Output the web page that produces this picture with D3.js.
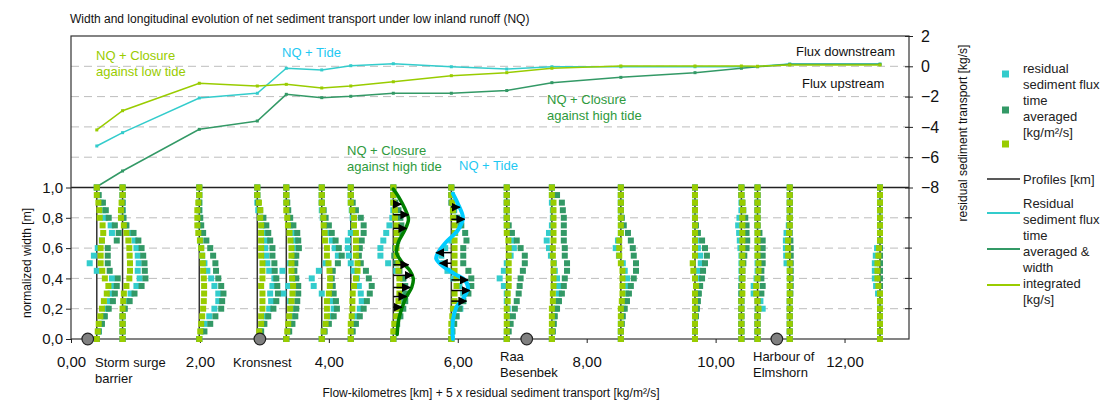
<!DOCTYPE html>
<html>
<head>
<meta charset="utf-8">
<script src="https://cdn.jsdelivr.net/npm/d3@7"></script>
<style>
  body { margin: 0; background: #fff; }
  svg { font-family: "Liberation Sans", Arial, sans-serif; }
  .axis text { font-size: 15px; fill: #111; }
  .axis line, .axis path { stroke: #222; }
  .grid line { stroke: #bdbdbd; stroke-dasharray: 8,5; }
  .note { font-size: 13px; }
  .legend text { font-size: 13px; fill: #222; }
</style>
</head>
<body>
<svg id="chart"></svg>
<script>
// Profiles (flow-km) and normalized width levels
const profileKm = [0.40, 0.80, 1.99, 2.89, 3.34, 3.89, 4.34, 5.00, 5.90, 6.76, 7.46, 8.53, 9.68, 10.40, 10.65, 11.15, 12.55];
const widthLevels = [0, 0.05, 0.1, 0.15, 0.2, 0.25, 0.3, 0.35, 0.4, 0.45, 0.5, 0.55, 0.6, 0.65, 0.7, 0.75, 0.8, 0.85, 0.9, 0.95, 1];

// Width and time integrated transport [kg/s] per profile
const transportLowTide = [-4.2, -2.93, -1.12, -1.3, -1.19, -1.43, -1.3, -1.02, -0.62, -0.42, -0.13, 0.02, 0.02, 0.02, 0, 0.09, 0.09];
const transportTide = [-5.26, -4.38, -2.09, -1.78, -0.13, -0.24, 0.04, 0.17, -0.03, -0.18, -0.03, -0.03, -0.03, -0.03, -0.01, 0.15, 0.15];
const transportHighTide = [-7.95, -6.91, -4.16, -3.61, -1.85, -2.07, -1.98, -1.78, -1.78, -1.6, -1.08, -0.73, -0.42, -0.13, -0.03, 0.13, 0.13];

// Residual sediment flux [kg/m²/s] over the width, bottom (0) to top (1), one row per profile
const fluxLowTide = [
  [0,.003,.006,.011,.016,.022,.031,.036,.025,.017,.012,.012,.012,.016,.02,.018,.009,.008,.005,0,0],
  [0,0,0,0,0,.002,.004,.012,.021,.023,.023,.022,.021,.018,.012,.004,-.005,-.005,-.003,0,0],
  [0,.003,.006,.009,.012,.014,.015,.015,.014,.012,.011,.009,.006,.002,-.003,-.006,-.006,-.006,-.003,0,0],
  [0,.006,.012,.012,.016,.016,.016,.012,.016,.016,.016,.012,.012,.012,.012,.012,.009,.009,.005,0,0],
  [0,.003,.006,.009,.012,.016,.019,.021,.018,.016,.016,.016,.016,.013,.01,.005,.003,0,0,0,0],
  [0,.006,.012,.016,.016,.016,.022,.025,.026,.024,.021,.016,.016,.01,.009,.006,.005,.003,0,0,0],
  [0,0,0,.003,.005,.005,.006,.01,.016,.021,.021,.016,.016,.016,.016,.01,.01,.005,0,0,0],
  [0,0,.003,.009,.012,.016,.019,.019,.019,.016,.016,.01,.01,.01,.01,.01,.005,.005,0,0,0],
  [0,0,0,.003,.005,.01,.01,.016,.016,.01,.01,.01,.01,.01,.01,.01,.005,.005,.003,0,0],
  [0,0,0,0,0,.003,.003,.006,.006,.006,.006,.006,.006,.005,0,0,0,0,0,0,0],
  [0,0,0,0,0,.003,.003,.005,.005,.005,.005,.003,.003,.005,.005,.005,.005,.005,.005,0,0],
  [0,0,0,0,0,.003,.005,.005,.005,.005,0,-.005,-.005,-.005,0,0,0,0,0,0,0],
  [0,0,0,0,0,0,0,.003,0,-.005,-.007,0,0,0,0,0,0,0,0,0,0],
  [0,0,0,0,0,0,.003,.003,.003,.003,.003,.003,.003,.003,.003,.003,.003,.005,.003,0,0],
  [0,0,0,0,.003,0,-.004,-.004,0,.003,.003,0,0,0,0,0,0,0,0,0,0],
  [0,0,0,0,0,0,0,0,0,0,0,-.005,-.005,-.005,-.002,0,0,0,0,0,0],
  [0,0,0,0,0,0,0,-.005,-.008,-.008,-.008,-.005,-.003,0,0,0,0,0,0,0,0]
];
const fluxHighTide = [
  [0,.006,.016,.025,.037,.05,.056,.062,.065,.04,.034,.034,.034,.062,.068,.056,.037,.028,.019,.006,0],
  [0,0,0,0,.007,.022,.037,.059,.071,.069,.068,.064,.059,.049,.034,.012,.003,0,0,0,0],
  [0,.016,.034,.05,.068,.071,.075,.068,.059,.052,.05,.043,.034,.022,.012,.006,.003,0,0,0,0],
  [0,.012,.022,.034,.05,.059,.064,.062,.059,.054,.053,.047,.047,.04,.034,.028,.019,.009,.003,0,0],
  [0,.009,.019,.028,.031,.034,.037,.037,.031,.025,.028,.031,.039,.037,.034,.022,.012,.006,.003,0,0],
  [0,.009,.022,.037,.047,.044,.037,.034,.031,.034,.05,.062,.053,.043,.031,.022,.012,.006,0,0,0],
  [0,.006,.016,.028,.04,.05,.059,.065,.056,.047,.031,.025,.028,.034,.04,.04,.031,.016,.006,0,0],
  [0,.006,.012,.022,.031,.037,.04,.037,.031,.019,.009,.003,.006,.012,.019,.025,.022,.016,.006,0,0],
  [0,.003,.009,.016,.025,.037,.053,.062,.062,.053,.037,.037,.037,.047,.043,.031,.016,.006,0,0,0],
  [0,.006,.012,.019,.025,.031,.037,.04,.043,.05,.056,.056,.043,.031,.016,.006,0,0,0,0,0],
  [0,.003,.006,.009,.016,.022,.031,.037,.04,.047,.047,.04,.04,.037,.037,.037,.037,.034,.031,.016,0],
  [0,0,.003,.006,.012,.019,.025,.031,.04,.047,.047,.04,.037,.031,.022,.009,.003,0,0,0,0],
  [0,0,0,.003,.006,.009,.012,.016,.022,.025,.031,.037,.031,.022,.009,.003,0,0,0,0,0],
  [0,0,0,0,0,0,0,0,.003,.003,.006,.009,.016,.018,.016,.016,.012,.006,.003,0,0],
  [0,0,0,0,0,0,.012,.016,.012,.012,.016,.016,.016,.016,.006,0,0,0,0,0,0],
  [0,0,0,0,0,0,.002,.003,.003,.003,.003,.003,.003,.002,0,0,0,0,0,0,0],
  [0,0,0,0,0,0,0,0,0,0,0,0,0,0,0,0,0,0,0,0,0]
];
const fluxTide = [
  [0,.006,.012,.022,.031,.04,.043,.047,.047,0,-.022,-.009,.003,.016,.047,.043,.025,.019,.012,.003,0],
  [0,0,0,0,.003,.012,.025,.043,.053,.047,.05,.047,.043,.037,.025,.009,0,0,0,0,0],
  [0,.006,.016,.031,.047,.059,.059,.047,.037,.025,.016,.009,.006,.003,0,0,0,0,0,0,0],
  [0,.009,.016,.028,.037,.043,.04,.047,.053,.037,.031,.028,.025,.028,.025,.016,.009,.003,0,0,0],
  [0,.006,.012,.019,.019,.012,-.009,.006,.019,-.012,.012,.025,.031,.028,.022,.012,.006,.003,0,0,0],
  [0,.006,.012,.028,.037,.031,0,-.025,-.031,-.009,.012,.05,.04,.031,.019,.009,.003,0,0,0,0],
  [0,.003,.009,.019,.028,.034,.031,.025,.019,.009,0,-.006,-.009,-.009,0,.009,.006,.003,0,0,0],
  [0,.003,.009,.016,.022,.028,.031,.031,.031,.009,-.016,-.04,-.04,-.031,-.022,-.012,-.003,0,0,0,0],
  [0,.003,.006,.016,.028,.037,.037,.025,.006,-.012,-.025,-.031,-.019,0,.012,.025,.019,.009,.003,0,0],
  [0,0,.003,.003,.003,0,0,-.009,-.022,-.009,0,.012,.022,.016,.006,0,0,0,0,0,0],
  [0,0,.003,.006,.012,.019,.022,.019,.016,.009,.006,-.003,-.009,-.016,-.009,0,.003,.003,0,0,0],
  [0,0,0,.003,.006,.009,.016,.019,.019,.012,.006,-.006,-.016,-.009,0,0,0,0,0,0,0],
  [0,0,0,0,.003,.006,.009,.009,.009,.01,.018,.016,.009,.003,0,0,0,0,0,0,0],
  [0,0,0,0,0,0,0,0,0,0,0,0,-.003,-.005,-.007,-.01,-.006,0,0,0,0],
  [0,0,0,0,.016,.009,-.012,-.012,-.003,0,0,0,0,0,0,0,0,0,0,0,0],
  [0,0,0,0,0,0,0,0,0,0,-.01,-.011,-.012,-.012,-.01,-.003,0,0,0,0,0],
  [0,0,0,0,0,0,-.006,-.012,-.016,-.016,-.016,-.013,-.009,0,0,0,0,0,0,0,0]
];

// Sketched flux curves with arrows at km 5.00 (closure against high tide) and km 5.90 (tide)
const curveHighLevels = [0.03, 0.12, 0.2, 0.28, 0.34, 0.4, 0.45, 0.51, 0.57, 0.64, 0.72, 0.79, 0.86, 0.94, 0.99];
const curveHighFlux = [.012, .016, .026, .041, .057, .062, .052, .026, .01, .016, .036, .047, .036, .016, 0];
const arrowHighLevels = [0.89, 0.82, 0.73, 0.49, 0.42, 0.34, 0.28, 0.21];
const arrowHighFlux = [.024, .047, .041, .047, .06, .052, .041, .026];
const curveTideLevels = [0, 0.125, 0.21, 0.28, 0.34, 0.39, 0.43, 0.49, 0.53, 0.57, 0.64, 0.72, 0.8, 0.89, 0.96];
const curveTideFlux = [.005, .005, .016, .041, .052, .041, .01, -.031, -.047, -.041, -.016, .021, .036, .021, .005];
const arrowTideLevels = [0.87, 0.79, 0.57, 0.50, 0.39, 0.32, 0.25];
const arrowTideFlux = [.026, .041, -.047, -.036, .052, .057, .047];

// Places along the river
const placeKm = [0.26, 2.93, 7.07, 10.95];
const placeNames = [['Storm surge', 'barrier'], ['Kronsnest'], ['Raa', 'Besenbek'], ['Harbour of', 'Elmshorn']];

const xTicks = [0, 2, 4, 6, 8, 10, 12];
const widthTicks = [0, 0.2, 0.4, 0.6, 0.8, 1];
const transportTicks = [2, 0, -2, -4, -6, -8];

class SedimentChart {
  constructor(_config) {
    this.config = {
      parentElement: _config.parentElement,
      containerWidth: 1102,
      containerHeight: 403,
      margin: {top: 36, right: 193, bottom: 64, left: 71}
    };
    this.colors = {tide: '#33cccc', high: '#339966', low: '#99cc00'};
    this.initVis();
  }

  initVis() {
    let vis = this;
    vis.width = vis.config.containerWidth - vis.config.margin.left - vis.config.margin.right;
    vis.height = vis.config.containerHeight - vis.config.margin.top - vis.config.margin.bottom;

    vis.svg = d3.select(vis.config.parentElement)
      .attr('width', vis.config.containerWidth)
      .attr('height', vis.config.containerHeight);

    vis.svg.append('defs').append('marker')
      .attr('id', 'arrowhead')
      .attr('viewBox', '0 0 10 10')
      .attr('refX', 9).attr('refY', 5)
      .attr('markerWidth', 6).attr('markerHeight', 6)
      .attr('orient', 'auto')
      .append('path').attr('d', 'M0,0 L10,5 L0,10 Z').attr('fill', '#000');

    vis.chart = vis.svg.append('g')
      .attr('transform', `translate(${vis.config.margin.left},${vis.config.margin.top})`);

    // x = flow-km + 5 x flux
    vis.xScale = d3.scaleLinear().domain([0, 13]).range([0, vis.width]);
    // left axis: normalized width, upper half holds the transport panel
    vis.wScale = d3.scaleLinear().domain([0, 2]).range([vis.height, 0]);
    // right axis: transport [kg/s]
    vis.tScale = d3.scaleLinear().domain([-8, 2]).range([vis.wScale(1), 0]);

    vis.xPos = (km, flux) => vis.xScale(km + 5 * flux);
  }

  renderVis() {
    let vis = this;
    const comma = f => d => d3.format(f)(d).replace('.', ',');

    // grid
    const grid = vis.chart.append('g').attr('class', 'grid');
    grid.selectAll('.gw').data([0.2, 0.4, 0.6, 0.8]).join('line')
      .attr('x1', 0).attr('x2', vis.width)
      .attr('y1', d => vis.wScale(d)).attr('y2', d => vis.wScale(d));
    grid.selectAll('.gt').data([0, -2, -4, -6]).join('line')
      .attr('class', 'gt')
      .attr('x1', 0).attr('x2', vis.width)
      .attr('y1', d => vis.tScale(d)).attr('y2', d => vis.tScale(d));

    vis.chart.append('line')
      .attr('x1', 0).attr('x2', vis.width)
      .attr('y1', vis.wScale(1)).attr('y2', vis.wScale(1))
      .attr('stroke', '#222').attr('stroke-width', 1.5);

    // frame
    vis.chart.append('rect')
      .attr('width', vis.width).attr('height', vis.height)
      .attr('fill', 'none').attr('stroke', '#333').attr('stroke-width', 1.2);

    // axes
    vis.chart.append('g').attr('class', 'axis')
      .attr('transform', `translate(0,${vis.height})`)
      .call(d3.axisBottom(vis.xScale).tickValues(xTicks).tickFormat(comma('.2f')).tickSize(4).tickSizeOuter(0))
      .call(g => g.select('.domain').remove())
      .selectAll('text').attr('y', 17);

    vis.chart.append('g').attr('class', 'axis')
      .call(d3.axisLeft(vis.wScale).tickValues(widthTicks).tickFormat(comma('.1f')).tickSize(5).tickSizeOuter(0))
      .call(g => g.select('.domain').remove());

    vis.chart.append('g').attr('class', 'axis')
      .attr('transform', `translate(${vis.width},0)`)
      .call(d3.axisRight(vis.tScale).tickValues(transportTicks).tickSize(4).tickPadding(8).tickSizeOuter(0))
      .call(g => g.select('.domain').remove())
      .call(g => g.selectAll('.tick line').attr('x1', -4))
      .selectAll('text').style('font-size', '16px');

    vis.chart.append('g').selectAll('line').data(widthTicks.slice(1, 5)).join('line')
      .attr('x1', vis.width - 4).attr('x2', vis.width + 3)
      .attr('y1', d => vis.wScale(d)).attr('y2', d => vis.wScale(d))
      .attr('stroke', '#222');

    // profile lines
    vis.chart.append('g').selectAll('line').data(profileKm).join('line')
      .attr('x1', d => vis.xScale(d)).attr('x2', d => vis.xScale(d))
      .attr('y1', vis.wScale(0)).attr('y2', vis.wScale(1))
      .attr('stroke', '#333').attr('stroke-width', 1.5);

    // transport lines
    const series = [
      {key: 'tide', values: transportTide},
      {key: 'high', values: transportHighTide},
      {key: 'low', values: transportLowTide}
    ];
    const line = d3.line()
      .x((d, i) => vis.xScale(profileKm[i]))
      .y(d => vis.tScale(d));
    series.forEach(s => {
      vis.chart.append('path')
        .attr('d', line(s.values))
        .attr('fill', 'none').attr('stroke', vis.colors[s.key]).attr('stroke-width', 1.5);
      vis.chart.append('g').selectAll('rect').data(s.values).join('rect')
        .attr('x', (d, i) => vis.xScale(profileKm[i]) - 1.5)
        .attr('y', d => vis.tScale(d) - 1.5)
        .attr('width', 3).attr('height', 3)
        .attr('fill', vis.colors[s.key]);
    });

    // flux squares
    const sq = 6;
    const fluxSets = [
      {key: 'tide', rows: fluxTide},
      {key: 'high', rows: fluxHighTide},
      {key: 'low', rows: fluxLowTide}
    ];
    fluxSets.forEach(s => {
      const pts = [];
      s.rows.forEach((row, p) => row.forEach((f, i) => pts.push({km: profileKm[p], f: f, w: widthLevels[i]})));
      vis.chart.append('g').selectAll('rect').data(pts).join('rect')
        .attr('x', d => vis.xPos(d.km, d.f) - sq / 2)
        .attr('y', d => vis.wScale(d.w) - sq / 2)
        .attr('width', sq).attr('height', sq)
        .attr('fill', vis.colors[s.key]);
    });

    // sketched curves with arrows
    const drawCurve = (km, levels, flux, color, width) => {
      const pts = levels.map((w, i) => [vis.xPos(km, flux[i]), vis.wScale(w)]);
      vis.chart.append('path')
        .attr('d', d3.line().curve(d3.curveCatmullRom)(pts))
        .attr('fill', 'none').attr('stroke', color).attr('stroke-width', width)
        .attr('stroke-linecap', 'round');
    };
    const drawArrows = (km, levels, flux) => {
      vis.chart.append('g').selectAll('line').data(levels).join('line')
        .attr('x1', vis.xScale(km))
        .attr('x2', (d, i) => vis.xPos(km, flux[i]))
        .attr('y1', d => vis.wScale(d)).attr('y2', d => vis.wScale(d))
        .attr('stroke', '#000').attr('stroke-width', 1.5)
        .attr('marker-end', 'url(#arrowhead)');
    };
    drawCurve(5.00, curveHighLevels, curveHighFlux, '#008000', 3.5);
    drawArrows(5.00, arrowHighLevels, arrowHighFlux);
    drawCurve(5.90, curveTideLevels, curveTideFlux, '#00ccff', 4);
    drawArrows(5.90, arrowTideLevels, arrowTideFlux);

    // places
    vis.chart.append('g').selectAll('circle').data(placeKm).join('circle')
      .attr('cx', d => vis.xScale(d)).attr('cy', vis.height)
      .attr('r', 5.8)
      .attr('fill', '#808080').attr('stroke', '#222').attr('stroke-width', 1.2);

    const placeLabel = [
      {x: 95, y: 367}, {x: 233, y: 367}, {x: 500, y: 361}, {x: 753, y: 361}
    ];
    placeNames.forEach((lines, i) => {
      const t = vis.svg.append('text').attr('class', 'note').attr('fill', '#111')
        .attr('x', placeLabel[i].x).attr('y', placeLabel[i].y);
      lines.forEach((l, j) => t.append('tspan').attr('x', placeLabel[i].x).attr('dy', j ? 16 : 0).text(l));
    });

    // annotations
    const notes = [
      {x: 96, y: 60, c: '#99cc00', t: ['NQ + Closure', 'against low tide']},
      {x: 282, y: 57, c: '#1ec8f2', t: ['NQ + Tide']},
      {x: 347, y: 155, c: '#2e9a3c', t: ['NQ + Closure', 'against high tide']},
      {x: 459, y: 170, c: '#1ec8f2', t: ['NQ + Tide']},
      {x: 547, y: 104, c: '#2e9a3c', t: ['NQ + Closure', 'against high tide']},
      {x: 796, y: 56, c: '#111', t: ['Flux downstream']},
      {x: 802, y: 88, c: '#111', t: ['Flux upstream']}
    ];
    notes.forEach(n => {
      const t = vis.svg.append('text').attr('class', 'note').attr('fill', n.c).attr('x', n.x).attr('y', n.y);
      n.t.forEach((l, j) => t.append('tspan').attr('x', n.x).attr('dy', j ? 15.5 : 0).text(l));
    });

    // titles
    vis.svg.append('text').attr('x', 70).attr('y', 23)
      .style('font-size', '12px').attr('fill', '#111')
      .text('Width and longitudinal evolution of net sediment transport under low inland runoff (NQ)');
    vis.svg.append('text').attr('x', 491).attr('y', 397).attr('text-anchor', 'middle')
      .style('font-size', '12px').attr('fill', '#111')
      .text('Flow-kilometres [km] + 5 x residual sediment transport [kg/m²/s]');
    vis.svg.append('text').attr('transform', 'translate(31,263) rotate(-90)').attr('text-anchor', 'middle')
      .style('font-size', '12px').attr('fill', '#111')
      .text('normalized width [m]');
    vis.svg.append('text').attr('transform', 'translate(967,133) rotate(-90)').attr('text-anchor', 'middle')
      .style('font-size', '12px').attr('fill', '#111')
      .text('residual sediment transport [kg/s]');

    // legend
    const legend = vis.svg.append('g').attr('class', 'legend');
    [['tide', 74], ['high', 110], ['low', 144]].forEach(([k, y]) => {
      legend.append('rect').attr('x', 1002).attr('y', y - 3.5).attr('width', 7).attr('height', 7)
        .attr('fill', vis.colors[k]);
    });
    const legendText = (lines, y0) => {
      lines.forEach((l, j) => legend.append('text').attr('x', 1023).attr('y', y0 + j * 16).text(l));
    };
    legendText(['residual', 'sediment flux', 'time', 'averaged', '[kg/m²/s]'], 73);
    legend.append('line').attr('x1', 987).attr('x2', 1020).attr('y1', 179).attr('y2', 179)
      .attr('stroke', '#222').attr('stroke-width', 1.5);
    legendText(['Profiles [km]'], 184);
    [['tide', 213], ['high', 249], ['low', 285]].forEach(([k, y]) => {
      legend.append('line').attr('x1', 987).attr('x2', 1020).attr('y1', y).attr('y2', y)
        .attr('stroke', vis.colors[k]).attr('stroke-width', 2);
    });
    legendText(['Residual', 'sediment flux', 'time', 'averaged &', 'width', 'integrated', '[kg/s]'], 208);
  }
}

const chart = new SedimentChart({parentElement: '#chart'});
chart.renderVis();
</script>
</body>
</html>
